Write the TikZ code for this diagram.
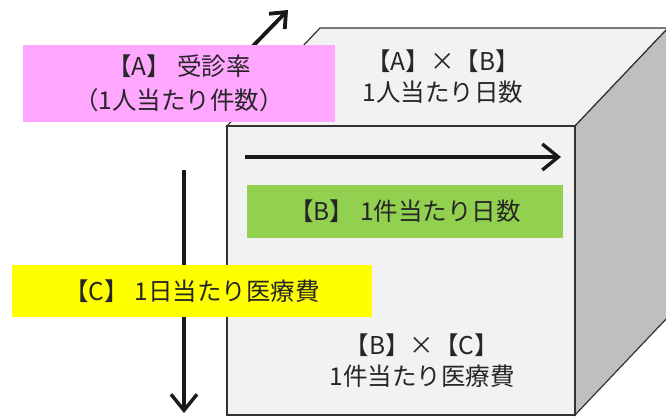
\documentclass[tikz,border=0pt]{standalone}
\usepackage{fontspec}
\newfontfamily\jp{Noto Sans CJK JP}
\usetikzlibrary{arrows.meta}
\definecolor{facelight}{HTML}{F2F2F2}
\definecolor{faceside}{HTML}{BFBFBF}
\definecolor{pinkbox}{HTML}{FFA6FF}
\definecolor{greenbox}{HTML}{92D050}
\definecolor{yellowbox}{HTML}{FFFF00}
\definecolor{txt}{HTML}{262626}
\newcommand{\gapA}{\hspace{6pt}}
\begin{document}
\begin{tikzpicture}[x=1pt,y=-1pt,
  face/.style={draw=black!80, line width=1.2pt, line join=miter},
  axisarrow/.style={line width=3.2pt, draw=black!90, -{Straight Barb[length=16pt,width=26pt,line width=3.4pt]}},
  lbl/.style={font=\jp\fontsize{24.5}{31}\selectfont, text=txt, inner sep=0pt, align=center},
  band/.style={lbl, draw=none}
]
\useasboundingbox (0,0) rectangle (666,417);
\fill[white] (0,0) rectangle (666,417);
% cube corners
\coordinate (ftl) at (227,126);
\coordinate (ftr) at (575,126);
\coordinate (fbr) at (575,415);
\coordinate (fbl) at (227,415);
\coordinate (btl) at (320,28);
\coordinate (btr) at (668,28);
\coordinate (bbr) at (668,317);
% faces
\filldraw[face, fill=facelight] (ftl) -- (btl) -- (btr) -- (ftr) -- cycle;
\filldraw[face, fill=faceside] (ftr) -- (btr) -- (bbr) -- (fbr) -- cycle;
\filldraw[face, fill=facelight] (ftl) -- (ftr) -- (fbr) -- (fbl) -- cycle;
% arrow end points
\coordinate (aS) at (252,47);
\coordinate (aE) at (288,10);
\coordinate (bS) at (245,157);
\coordinate (bE) at (561,157);
\coordinate (cS) at (184,170);
\coordinate (cE) at (184,413);
\draw[axisarrow, line width=3.8pt, -{Straight Barb[length=13pt,width=22pt,line width=3.8pt]}] (aS) -- (aE);
\draw[axisarrow] (bS) -- (bE);
\draw[axisarrow] (cS) -- (cE);
% labelled bands
\node[band, fill=pinkbox, minimum width=312pt, minimum height=77pt, font=\jp\fontsize{24.5}{34}\selectfont] (A) at (179,83.5) {【A】\gapA 受診率\\（1人当たり件数）};
\node[band, fill=greenbox, minimum width=316pt, minimum height=53pt] (B) at (405,211.5) {【B】\gapA 1件当たり日数};
\node[band, fill=yellowbox, minimum width=360pt, minimum height=52pt] (C) at (192,291) {【C】\gapA 1日当たり医療費};
% face texts
\node[lbl] (AB) at (443,77) {【A】×【B】\\1人当たり日数};
\node[lbl] (BC) at (422,361) {【B】×【C】\\1件当たり医療費};
\end{tikzpicture}
\end{document}
